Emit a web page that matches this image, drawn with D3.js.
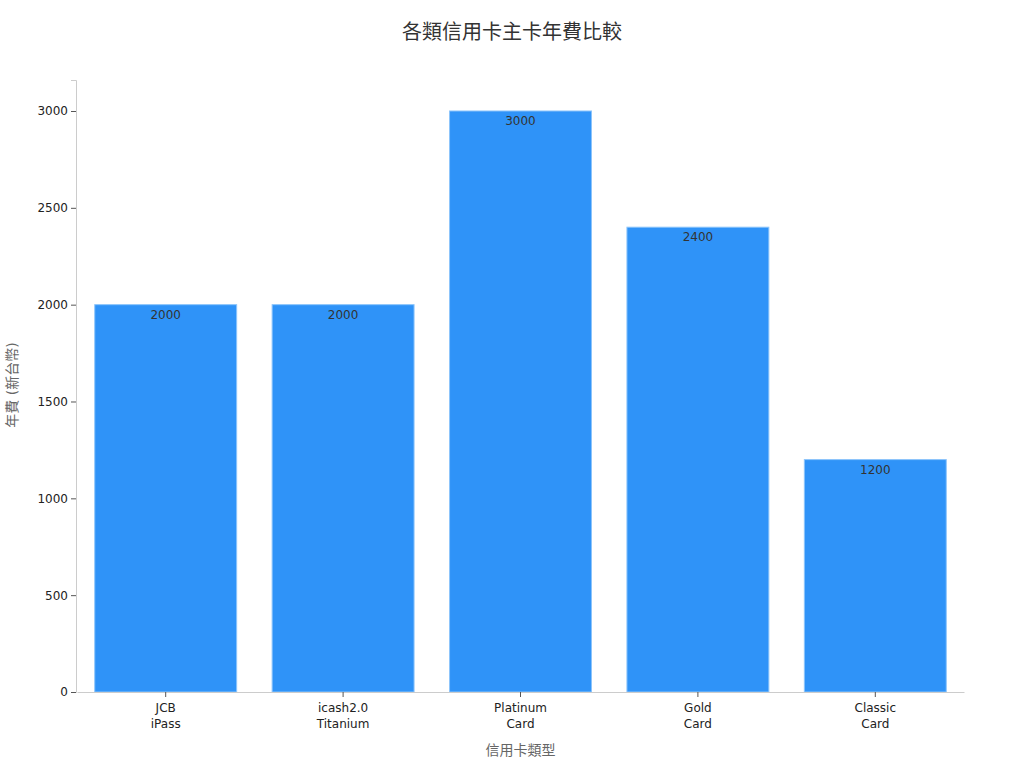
<!DOCTYPE html>
<html><head><meta charset="utf-8">
<script src="https://cdn.jsdelivr.net/npm/d3@7"></script>
<style>body{margin:0;background:#fff;font-family:"DejaVu Sans","Noto Sans CJK TC",sans-serif;}</style>
</head><body><svg id="c" width="1024" height="768"></svg>
<script>
const categories = ["JCB\niPass", "icash2.0\nTitanium", "Platinum\nCard", "Gold\nCard", "Classic\nCard"];
const fees = [2000, 2000, 3000, 2400, 1200];
const yTicks = [0, 500, 1000, 1500, 2000, 2500, 3000];
const title = "各類信用卡主卡年費比較";
const xTitle = "信用卡類型";
const yTitle = "年費 (新台幣)";

const svg = d3.select("#c");
const m = {l:77, r:60, t:80, b:76};
const W = 1024, H = 768;
const x = d3.scaleBand().domain(categories).range([m.l, W - m.r]).paddingInner(0.2).paddingOuter(0.1);
const y = d3.scaleLinear().domain([0, 3160]).range([H - m.b, m.t]);
const font = '"DejaVu Sans","Noto Sans CJK TC",sans-serif';

svg.append("text").attr("x", 512).attr("y", 39).attr("text-anchor", "middle")
  .attr("font-size", 20).attr("fill", "#333").attr("font-family", font).text(title);

svg.selectAll("rect.bar").data(fees).join("rect").attr("class", "bar")
  .attr("x", (d, i) => x(categories[i])).attr("width", x.bandwidth())
  .attr("y", d => y(d)).attr("height", d => y(0) - y(d))
  .attr("fill", "#2f93f8").attr("stroke", "#8cc4fb").attr("stroke-width", 1);

svg.selectAll("text.val").data(fees).join("text").attr("class", "val")
  .attr("x", (d, i) => x(categories[i]) + x.bandwidth() / 2).attr("y", d => y(d) + 14)
  .attr("text-anchor", "middle").attr("font-size", 12).attr("fill", "#333").attr("font-family", font)
  .text(d => d);

const yAxis = svg.append("g").attr("transform", `translate(${m.l - 1},0)`)
  .call(d3.axisLeft(y).tickValues(yTicks).tickFormat(d3.format("d")).tickSize(5).tickPadding(3));
yAxis.select(".domain").attr("stroke", "#ccc");
yAxis.selectAll(".tick line").attr("stroke", "#555");
yAxis.selectAll(".tick text").attr("font-size", 12).attr("fill", "#222").attr("font-family", font);

const xAxis = svg.append("g").attr("transform", `translate(0,${H - m.b})`)
  .call(d3.axisBottom(x).tickSize(5).tickPadding(3).tickSizeOuter(0));
xAxis.select(".domain").attr("stroke", "#ccc");
xAxis.selectAll(".tick line").attr("stroke", "#555");
xAxis.selectAll(".tick text").attr("font-size", 12).attr("fill", "#222").attr("font-family", font)
  .each(function(d) {
    const t = d3.select(this); const parts = d.split("\n"); t.text(null);
    parts.forEach((p, i) => t.append("tspan").attr("x", 0).attr("dy", i === 0 ? "1.0em" : "1.35em").text(p));
  });

svg.append("text").attr("x", (m.l + W - m.r) / 2).attr("y", 755).attr("text-anchor", "middle")
  .attr("font-size", 14).attr("fill", "#666").attr("font-family", font).text(xTitle);
svg.append("text").attr("transform", "translate(17,385) rotate(-90)").attr("text-anchor", "middle")
  .attr("font-size", 14).attr("fill", "#666").attr("font-family", font).text(yTitle);
</script></body></html>
